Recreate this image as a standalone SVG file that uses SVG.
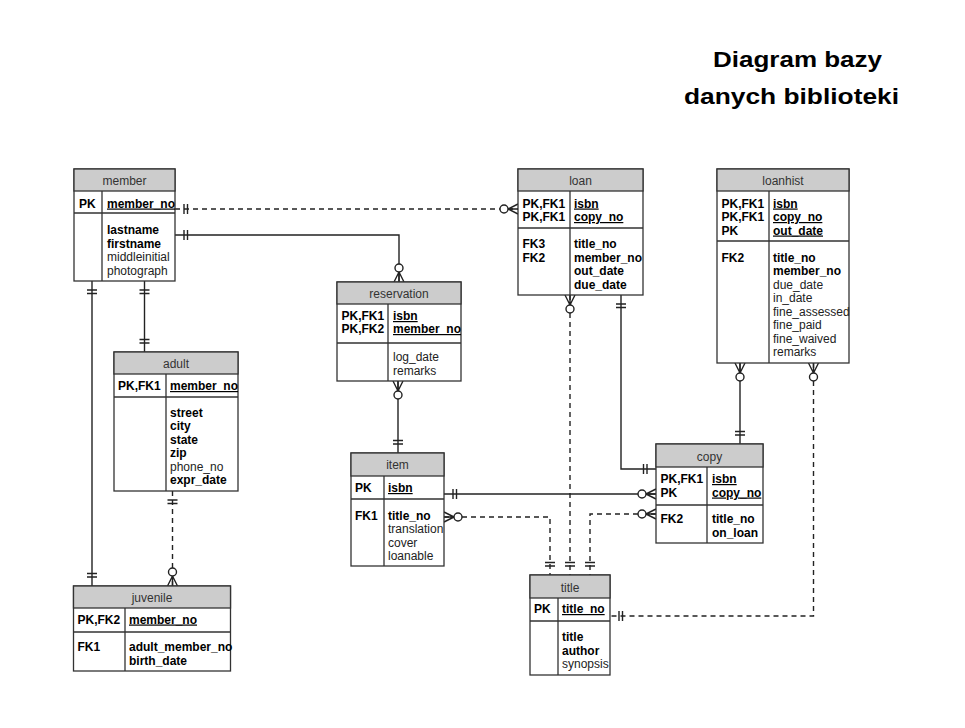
<svg xmlns="http://www.w3.org/2000/svg" xmlns:xlink="http://www.w3.org/1999/xlink" width="965" height="728" viewBox="0 0 965 728">
<style>
.bg{fill:#fff}
.box{fill:#fff;stroke:#333;stroke-width:1.3}
.hdr{fill:#cccccc;stroke:#333;stroke-width:1.3}
.ln{stroke:#333;stroke-width:1.3;fill:none}
.t{font-family:"Liberation Sans",Arial,sans-serif;font-size:12px;fill:#222}
.b{font-weight:bold;fill:#000}
.u{text-decoration:underline}
.h{text-anchor:middle;fill:#333}
.ttl{font-family:"Liberation Sans",Arial,sans-serif;font-size:22px;font-weight:bold;fill:#000}
.c{stroke:#222;stroke-width:1.4;fill:none}
.d{stroke-dasharray:5,4}
.sym{stroke:#222;stroke-width:1.4;fill:none}
.circ{stroke:#222;stroke-width:1.4;fill:#fff}
</style>
<defs>
<g id="many0">
<path class="sym" d="M-10,0 L0,-5 M-10,0 L0,0 M-10,0 L0,5"/>
<circle class="circ" cx="-14" cy="0" r="4"/>
</g>
<g id="one">
<path class="sym" d="M-9,-5 L-9,5 M-12.5,-5 L-12.5,5"/>
</g>
</defs>
<rect class="bg" x="0" y="0" width="965" height="728"/>
<text class="ttl" x="713" y="67" textLength="169" lengthAdjust="spacingAndGlyphs">Diagram bazy</text>
<text class="ttl" x="684" y="104" textLength="215" lengthAdjust="spacingAndGlyphs">danych biblioteki</text>

<g id="connectors">
<path class="c d" d="M175,209 L518,209"/>
<path class="c" d="M175,235 L399,235 L399,282"/>
<path class="c" d="M92,281 L92,586"/>
<path class="c" d="M144.5,281 L144.5,352"/>
<path class="c d" d="M172.5,491 L172.5,586"/>
<path class="c" d="M398,381 L398,453"/>
<path class="c" d="M444,494 L656,494"/>
<path class="c d" d="M444,517 L550,517 L550,575"/>
<path class="c d" d="M570,295 L570,575"/>
<path class="c" d="M621,295 L621,469 L656,469"/>
<path class="c d" d="M656,514 L590,514 L590,575"/>
<path class="c" d="M740,363 L740,444"/>
<path class="c d" d="M813.5,363 L813.5,616 L610,616"/>
<use xlink:href="#one" transform="translate(175,209) rotate(180)"/>
<use xlink:href="#many0" transform="translate(518,209)"/>
<use xlink:href="#one" transform="translate(175,235) rotate(180)"/>
<use xlink:href="#many0" transform="translate(399,282) rotate(90)"/>
<use xlink:href="#one" transform="translate(92,281) rotate(-90)"/>
<use xlink:href="#one" transform="translate(92,586) rotate(90)"/>
<use xlink:href="#one" transform="translate(144.5,281) rotate(-90)"/>
<use xlink:href="#one" transform="translate(144.5,352) rotate(90)"/>
<use xlink:href="#one" transform="translate(172.5,491) rotate(-90)"/>
<use xlink:href="#many0" transform="translate(172.5,586) rotate(90)"/>
<use xlink:href="#many0" transform="translate(398,381) rotate(-90)"/>
<use xlink:href="#one" transform="translate(398,453) rotate(90)"/>
<use xlink:href="#one" transform="translate(444,494) rotate(180)"/>
<use xlink:href="#many0" transform="translate(656,494)"/>
<use xlink:href="#many0" transform="translate(444,517) rotate(180)"/>
<use xlink:href="#one" transform="translate(550,575) rotate(90)"/>
<use xlink:href="#many0" transform="translate(570,295) rotate(-90)"/>
<use xlink:href="#one" transform="translate(570,575) rotate(90)"/>
<use xlink:href="#one" transform="translate(621,295) rotate(-90)"/>
<use xlink:href="#one" transform="translate(656,469)"/>
<use xlink:href="#many0" transform="translate(656,514)"/>
<use xlink:href="#one" transform="translate(590,575) rotate(90)"/>
<use xlink:href="#many0" transform="translate(740,363) rotate(-90)"/>
<use xlink:href="#one" transform="translate(740,444) rotate(90)"/>
<use xlink:href="#many0" transform="translate(813.5,363) rotate(-90)"/>
<use xlink:href="#one" transform="translate(610,616) rotate(180)"/>
</g>

<g id="member">
<rect class="box" x="74" y="169" width="101" height="112"/>
<rect class="hdr" x="74" y="169" width="101" height="22"/>
<path class="ln" d="M74,213 H175 M102,191 V281"/>
<text class="t h" x="124.5" y="185">member</text>
<text class="t b" x="79" y="207.5">PK</text>
<text class="t b u" x="107" y="207.5">member_no</text>
<text class="t b" x="107" y="234">lastname</text>
<text class="t b" x="107" y="247.5">firstname</text>
<text class="t" x="107" y="261">middleinitial</text>
<text class="t" x="107" y="274.5">photograph</text>
</g>

<g id="reservation">
<rect class="box" x="337" y="282" width="124" height="99"/>
<rect class="hdr" x="337" y="282" width="124" height="22"/>
<path class="ln" d="M337,343 H461 M388,304 V381"/>
<text class="t h" x="399" y="298">reservation</text>
<text class="t b" x="341.5" y="320">PK,FK1</text>
<text class="t b" x="341.5" y="333">PK,FK2</text>
<text class="t b u" x="393" y="320">isbn</text>
<text class="t b u" x="393" y="333">member_no</text>
<text class="t" x="393" y="361">log_date</text>
<text class="t" x="393" y="374.5">remarks</text>
</g>

<g id="adult">
<rect class="box" x="114" y="352" width="124" height="139"/>
<rect class="hdr" x="114" y="352" width="124" height="22"/>
<path class="ln" d="M114,397 H238 M166,374 V491"/>
<text class="t h" x="176" y="368">adult</text>
<text class="t b" x="118" y="390">PK,FK1</text>
<text class="t b u" x="170" y="390">member_no</text>
<text class="t b" x="170" y="416.5">street</text>
<text class="t b" x="170" y="430">city</text>
<text class="t b" x="170" y="443.5">state</text>
<text class="t b" x="170" y="457">zip</text>
<text class="t" x="170" y="470.5">phone_no</text>
<text class="t b" x="170" y="484">expr_date</text>
</g>

<g id="juvenile">
<rect class="box" x="73.5" y="586" width="157" height="85"/>
<rect class="hdr" x="73.5" y="586" width="157" height="22"/>
<path class="ln" d="M73.5,632 H230.5 M125,608 V671"/>
<text class="t h" x="152" y="602">juvenile</text>
<text class="t b" x="77.5" y="623.5">PK,FK2</text>
<text class="t b u" x="129" y="623.5">member_no</text>
<text class="t b" x="77.5" y="651">FK1</text>
<text class="t b" x="129" y="651">adult_member_no</text>
<text class="t b" x="129" y="664.5">birth_date</text>
</g>

<g id="item">
<rect class="box" x="351" y="453" width="93" height="113"/>
<rect class="hdr" x="351" y="453" width="93" height="23"/>
<path class="ln" d="M351,499 H444 M384,476 V566"/>
<text class="t h" x="397.5" y="469">item</text>
<text class="t b" x="355" y="492">PK</text>
<text class="t b u" x="388" y="492">isbn</text>
<text class="t b" x="355" y="519.5">FK1</text>
<text class="t b" x="388" y="519.5">title_no</text>
<text class="t" x="388" y="533">translation</text>
<text class="t" x="388" y="546.5">cover</text>
<text class="t" x="388" y="560">loanable</text>
</g>

<g id="loan">
<rect class="box" x="518" y="169" width="125" height="126"/>
<rect class="hdr" x="518" y="169" width="125" height="22"/>
<path class="ln" d="M518,228 H643 M570,191 V295"/>
<text class="t h" x="580.5" y="185">loan</text>
<text class="t b" x="522.5" y="207.5">PK,FK1</text>
<text class="t b" x="522.5" y="221">PK,FK1</text>
<text class="t b u" x="574" y="207.5">isbn</text>
<text class="t b u" x="574" y="221">copy_no</text>
<text class="t b" x="522.5" y="248">FK3</text>
<text class="t b" x="522.5" y="261.5">FK2</text>
<text class="t b" x="574" y="248">title_no</text>
<text class="t b" x="574" y="261.5">member_no</text>
<text class="t b" x="574" y="275">out_date</text>
<text class="t b" x="574" y="288.5">due_date</text>
</g>

<g id="loanhist">
<rect class="box" x="717" y="169" width="132" height="194"/>
<rect class="hdr" x="717" y="169" width="132" height="22"/>
<path class="ln" d="M717,241 H849 M769,191 V363"/>
<text class="t h" x="783" y="185">loanhist</text>
<text class="t b" x="721.5" y="207.5">PK,FK1</text>
<text class="t b" x="721.5" y="221">PK,FK1</text>
<text class="t b" x="721.5" y="234.5">PK</text>
<text class="t b u" x="773" y="207.5">isbn</text>
<text class="t b u" x="773" y="221">copy_no</text>
<text class="t b u" x="773" y="234.5">out_date</text>
<text class="t b" x="721.5" y="261.5">FK2</text>
<text class="t b" x="773" y="261.5">title_no</text>
<text class="t b" x="773" y="275">member_no</text>
<text class="t" x="773" y="288.5">due_date</text>
<text class="t" x="773" y="302">in_date</text>
<text class="t" x="773" y="315.5">fine_assessed</text>
<text class="t" x="773" y="329">fine_paid</text>
<text class="t" x="773" y="342.5">fine_waived</text>
<text class="t" x="773" y="356">remarks</text>
</g>

<g id="copy">
<rect class="box" x="656" y="444" width="107" height="99"/>
<rect class="hdr" x="656" y="444" width="107" height="23"/>
<path class="ln" d="M656,505 H763 M707,467 V543"/>
<text class="t h" x="709.5" y="460.5">copy</text>
<text class="t b" x="660.5" y="483">PK,FK1</text>
<text class="t b" x="660.5" y="496.5">PK</text>
<text class="t b u" x="712" y="483">isbn</text>
<text class="t b u" x="712" y="496.5">copy_no</text>
<text class="t b" x="660.5" y="523">FK2</text>
<text class="t b" x="712" y="523">title_no</text>
<text class="t b" x="712" y="536.5">on_loan</text>
</g>

<g id="title">
<rect class="box" x="530" y="575" width="80" height="100"/>
<rect class="hdr" x="530" y="575" width="80" height="23"/>
<path class="ln" d="M530,621 H610 M558,598 V675"/>
<text class="t h" x="570" y="592">title</text>
<text class="t b" x="534" y="613">PK</text>
<text class="t b u" x="562" y="613">title_no</text>
<text class="t b" x="562" y="641">title</text>
<text class="t b" x="562" y="654.5">author</text>
<text class="t" x="562" y="668">synopsis</text>
</g>
</svg>
